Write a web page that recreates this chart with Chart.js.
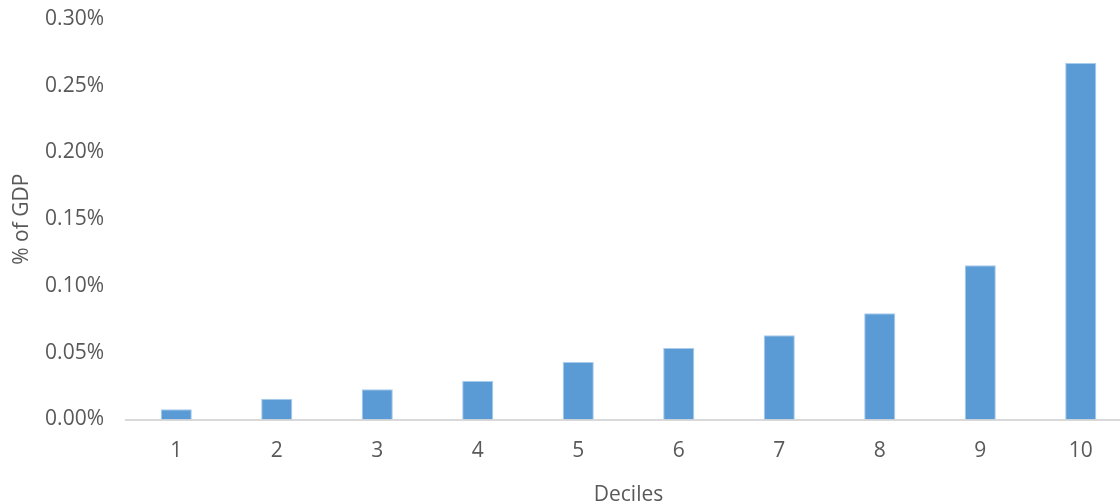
<!DOCTYPE html>
<html>
<head>
<meta charset="utf-8">
<script src="https://cdn.jsdelivr.net/npm/chart.js@4"></script>
<style>
  html, body { margin: 0; padding: 0; background: #ffffff; overflow: hidden; }
  #wrap { width: 1132px; height: 504px; }
</style>
</head>
<body>
<div id="wrap"><canvas id="chart" width="1132" height="504"></canvas></div>
<script>
// Deciles of the distribution and their share, in % of GDP
const deciles = ['1', '2', '3', '4', '5', '6', '7', '8', '9', '10'];
const shareOfGdp = [0.0076, 0.0156, 0.0226, 0.0289, 0.0431, 0.0536, 0.0631, 0.0796, 0.1156, 0.267];
const yTicks = [0, 0.05, 0.10, 0.15, 0.20, 0.25, 0.30];

const textColor = '#595959';
const fontFamily = '"Open Sans", "Liberation Sans", sans-serif';

new Chart(document.getElementById('chart'), {
  type: 'bar',
  data: {
    labels: deciles,
    datasets: [{
      data: shareOfGdp,
      backgroundColor: '#5b9bd5',
      borderColor: '#a9cbec',
      borderWidth: 1,
      borderSkipped: 'bottom',
      barPercentage: 0.31,
      categoryPercentage: 1.0
    }]
  },
  options: {
    responsive: false,
    animation: false,
    events: [],
    layout: { padding: { top: 19, right: 1, left: 0, bottom: 0 } },
    plugins: { legend: { display: false }, tooltip: { enabled: false } },
    scales: {
      x: {
        offset: true,
        grid: { display: false, drawTicks: false },
        border: { display: true, color: '#d9d9d9', width: 2 },
        ticks: { color: textColor, font: { family: fontFamily, size: 21 }, padding: 19 },
        title: {
          display: true,
          text: 'Deciles',
          color: textColor,
          font: { family: fontFamily, size: 21 },
          padding: { top: 12, bottom: -4 }
        },
        afterFit(scale) {
          scale.height = 84.5;
          scale.paddingLeft = 0;
          scale.paddingRight = 0;
        }
      },
      y: {
        min: 0,
        max: 0.30,
        afterBuildTicks(scale) { scale.ticks = yTicks.map(v => ({ value: v })); },
        grid: { display: false, drawTicks: false },
        border: { display: false },
        ticks: {
          color: textColor,
          font: { family: fontFamily, size: 21 },
          padding: 22,
          callback: v => v.toFixed(2) + '%'
        },
        title: {
          display: true,
          text: '% of GDP',
          color: textColor,
          font: { family: fontFamily, size: 21 },
          padding: { top: 9, bottom: 0 }
        },
        afterFit(scale) {
          scale.width = 126;
          scale.paddingTop = 0;
          scale.paddingBottom = 0;
        }
      }
    }
  }
});
</script>
</body>
</html>
